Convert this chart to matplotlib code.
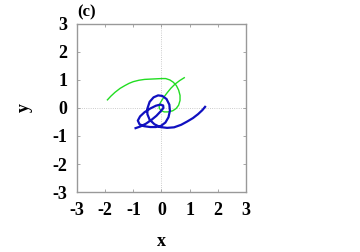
import matplotlib
matplotlib.use('Agg')
import matplotlib.pyplot as plt

# green trajectory
green_x = [-1.92, -1.8, -1.65, -1.47, -1.3, -1.15, -1.0, -0.8, -0.6, -0.41, -0.2, 0.0,
           0.15, 0.3, 0.42, 0.53, 0.61, 0.66, 0.66, 0.61, 0.52, 0.4, 0.24, 0.1,
           0.0, -0.08, -0.08, -0.02, 0.08, 0.2, 0.33, 0.48, 0.65, 0.81]
green_y = [0.29, 0.42, 0.56, 0.7, 0.8, 0.88, 0.94, 0.99, 1.02, 1.03, 1.04, 1.05,
           1.05, 1.0, 0.92, 0.8, 0.64, 0.45, 0.27, 0.1, -0.02, -0.1, -0.14, -0.14,
           -0.1, -0.01, 0.1, 0.22, 0.38, 0.54, 0.7, 0.85, 0.98, 1.08]

# blue trajectory
blue_x = [-0.92, -0.75, -0.55, -0.35, -0.18, -0.03, 0.07, 0.06, -0.05, -0.2, -0.4,
          -0.6, -0.76, -0.84, -0.78, -0.62, -0.4, -0.2, -0.02, 0.14, 0.25, 0.3, 0.28,
          0.18, 0.03, -0.12, -0.28, -0.42, -0.5, -0.5, -0.42, -0.25, -0.05, 0.2, 0.45,
          0.7, 0.92, 1.12, 1.3, 1.45, 1.55]
blue_y = [-0.72, -0.66, -0.56, -0.42, -0.28, -0.12, 0.0, 0.09, 0.12, 0.08, -0.02,
          -0.15, -0.3, -0.45, -0.58, -0.65, -0.68, -0.68, -0.64, -0.52, -0.33, -0.1, 0.12,
          0.32, 0.43, 0.45, 0.38, 0.22, -0.02, -0.22, -0.42, -0.58, -0.68, -0.71, -0.69,
          -0.6, -0.48, -0.36, -0.22, -0.08, 0.04]

ticks = [-3, -2, -1, 0, 1, 2, 3]

plt.rcParams['font.family'] = ['Liberation Serif', 'DejaVu Serif']
plt.rcParams['font.weight'] = 'bold'
plt.rcParams['axes.unicode_minus'] = False

fig = plt.figure(figsize=(3.6, 2.52), dpi=100)
ax = fig.add_axes([0.214, 0.238, 0.469, 0.667])

ax.axhline(0, color='#bbbbbb', lw=0.6, ls=':', zorder=0)
ax.axvline(0, color='#bbbbbb', lw=0.6, ls=':', zorder=0)

ax.plot(green_x, green_y, color='#22dd22', lw=1.0)
ax.plot(blue_x, blue_y, color='#1010c0', lw=1.6)

ax.set_xlim(-3, 3)
ax.set_ylim(-3, 3)
ax.set_xticks(ticks)
ax.set_yticks(ticks)
ax.tick_params(direction='in', length=2, width=0.6, color='#999999',
               top=True, right=True, labelsize=13, pad=7)
for s in ax.spines.values():
    s.set_color('#999999')
    s.set_linewidth(1.0)

ax.set_xlabel('x', fontsize=13, fontweight='bold', labelpad=10)
ax.set_ylabel('y', fontsize=13, fontweight='bold', labelpad=14)
ax.text(0.0, 1.02, '(c)', transform=ax.transAxes, fontsize=12, fontweight='bold',
        ha='left', va='bottom')

fig.savefig('out.png', dpi=100)
